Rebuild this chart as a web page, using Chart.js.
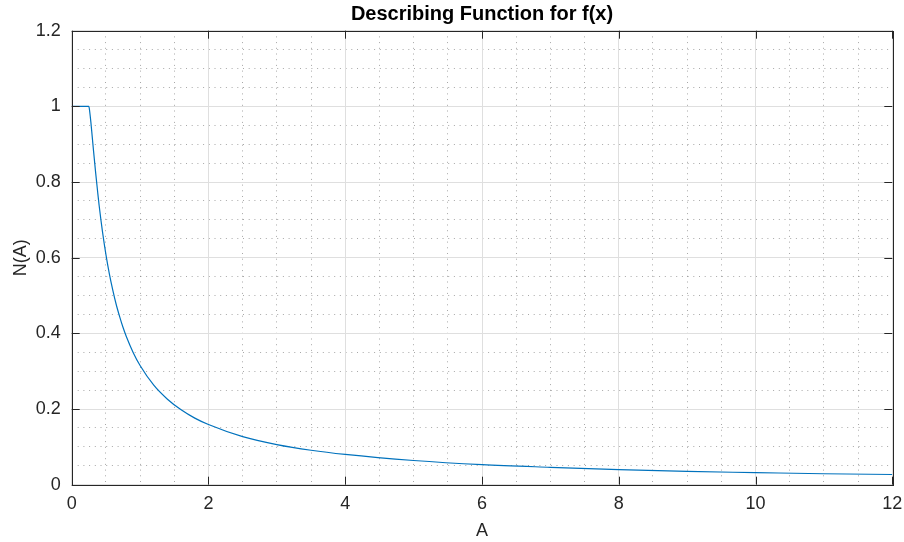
<!DOCTYPE html>
<html>
<head>
<meta charset="utf-8">
<script src="https://cdn.jsdelivr.net/npm/chart.js@4.4.1/dist/chart.umd.min.js"></script>
<style>
  html, body { margin: 0; padding: 0; background: #fff; }
  #wrap { width: 904px; height: 542px; }
</style>
</head>
<body>
<div id="wrap"><canvas id="chart1"></canvas></div>
<script>
/* data */
const ampValues = [0, 0.25, 0.255, 0.26, 0.27, 0.28, 0.3, 0.32, 0.35, 0.38, 0.4, 0.45, 0.5, 0.55, 0.6, 0.65, 0.7, 0.75, 0.8, 0.9, 1.0, 1.2, 1.4, 1.6, 1.8, 2, 2.5, 3, 3.5, 4, 5, 6, 7, 8, 9, 10, 11, 12];
const gainValues = [1, 1, 0.997, 0.991, 0.976, 0.959, 0.920, 0.881, 0.825, 0.773, 0.740, 0.669, 0.609, 0.558, 0.515, 0.477, 0.445, 0.416, 0.391, 0.349, 0.315, 0.263, 0.226, 0.198, 0.176, 0.159, 0.127, 0.106, 0.091, 0.080, 0.064, 0.053, 0.046, 0.040, 0.035, 0.032, 0.029, 0.027];
const xTickLabels = ['0', '2', '4', '6', '8', '10', '12'];
const yTickLabels = ['0', '0.2', '0.4', '0.6', '0.8', '1', '1.2'];

const axisColor = '#262626';
const tickFont = { family: 'Liberation Sans, Arial, Helvetica, sans-serif', size: 18 };

const isMultiple = (v, step) => Math.abs(v / step - Math.round(v / step)) < 1e-6;
const noPad = s => { s.paddingLeft = 0; s.paddingRight = 0; s.paddingTop = 0; s.paddingBottom = 0; };

/* box + inward tick marks, matlab style */
const boxPlugin = {
  id: 'boxPlugin',
  afterDraw(chart) {
    const { ctx, chartArea: a, scales } = chart;
    const len = 8;
    ctx.save();
    ctx.strokeStyle = axisColor;
    ctx.lineWidth = 1;
    ctx.beginPath();
    scales.x.ticks.forEach(t => {
      const px = Math.round(scales.x.getPixelForValue(t.value)) + 0.5;
      ctx.moveTo(px, a.bottom); ctx.lineTo(px, a.bottom - len);
      ctx.moveTo(px, a.top); ctx.lineTo(px, a.top + len);
    });
    scales.y.ticks.forEach(t => {
      const py = Math.round(scales.y.getPixelForValue(t.value)) + 0.5;
      ctx.moveTo(a.left, py); ctx.lineTo(a.left + len, py);
      ctx.moveTo(a.right, py); ctx.lineTo(a.right - len, py);
    });
    ctx.stroke();
    ctx.strokeRect(Math.round(a.left) + 0.5, Math.round(a.top) + 0.5,
      Math.round(a.right - a.left), Math.round(a.bottom - a.top));
    ctx.restore();
  }
};

const chart1 = document.querySelector('#chart1');

new Chart(chart1, {
  type: 'line',
  data: {
    datasets: [{
      label: 'N(A)',
      data: ampValues.map((a, i) => ({ x: a, y: gainValues[i] })),
      borderColor: '#0072BD',
      borderWidth: 1.2,
      pointRadius: 0,
      cubicInterpolationMode: 'monotone',
      fill: false
    }]
  },
  options: {
    responsive: true,
    maintainAspectRatio: false,
    animation: false,
    layout: { padding: { left: 0, right: 11.7, top: 0, bottom: 0 } },
    plugins: {
      legend: { display: false },
      tooltip: { enabled: false },
      title: {
        display: true,
        text: 'Describing Function for f(x)',
        fullSize: false,
        color: '#000',
        font: { family: 'Liberation Sans, Arial, Helvetica, sans-serif', size: 20, weight: 'bold', lineHeight: 1.2 },
        padding: { top: 2, bottom: 4.7 }
      }
    },
    scales: {
      x: {
        type: 'linear',
        min: 0,
        max: 12,
        afterFit: s => { s.height = 57.3; noPad(s); },
        ticks: {
          stepSize: 2,
          padding: 9,
          color: axisColor,
          font: tickFont,
          maxRotation: 0,
          callback: (v) => xTickLabels[Math.round(v / 2)]
        },
        grid: { color: '#dfdfdf', drawTicks: false },
        border: { display: false },
        title: {
          display: true,
          text: 'A',
          color: axisColor,
          font: { family: 'Liberation Sans, Arial, Helvetica, sans-serif', size: 18, lineHeight: 1.2 },
          padding: { top: 0, bottom: 0 }
        }
      },
      y: {
        type: 'linear',
        min: 0,
        max: 1.2,
        afterFit: s => { s.width = 71.7; noPad(s); },
        ticks: {
          stepSize: 0.2,
          padding: 11,
          color: axisColor,
          font: tickFont,
          callback: (v) => yTickLabels[Math.round(v / 0.2)]
        },
        grid: { color: '#dfdfdf', drawTicks: false },
        border: { display: false },
        title: {
          display: true,
          text: 'N(A)',
          color: axisColor,
          font: { family: 'Liberation Sans, Arial, Helvetica, sans-serif', size: 18, lineHeight: 1.2 },
          padding: { top: 10, bottom: 0 }
        }
      },
      /* minor grid */
      xm: {
        type: 'linear',
        position: 'bottom',
        min: 0,
        max: 12,
        afterFit: s => { s.height = 0; noPad(s); },
        ticks: { display: false, stepSize: 0.5 },
        grid: {
          z: -2,
          drawTicks: false,
          lineWidth: 1,
          color: (c) => (isMultiple(c.tick.value, 2) ? 'rgba(0,0,0,0)' : 'rgba(38,38,38,0.4)')
        },
        border: { display: false, dash: [1, 4.7] }
      },
      ym: {
        type: 'linear',
        position: 'left',
        min: 0,
        max: 1.2,
        afterFit: s => { s.width = 0; noPad(s); },
        ticks: { display: false, stepSize: 0.05 },
        grid: {
          z: -2,
          drawTicks: false,
          lineWidth: 1,
          color: (c) => (isMultiple(c.tick.value, 0.2) ? 'rgba(0,0,0,0)' : 'rgba(38,38,38,0.4)')
        },
        border: { display: false, dash: [1, 4.7] }
      }
    }
  },
  plugins: [boxPlugin]
});
</script>
</body>
</html>
